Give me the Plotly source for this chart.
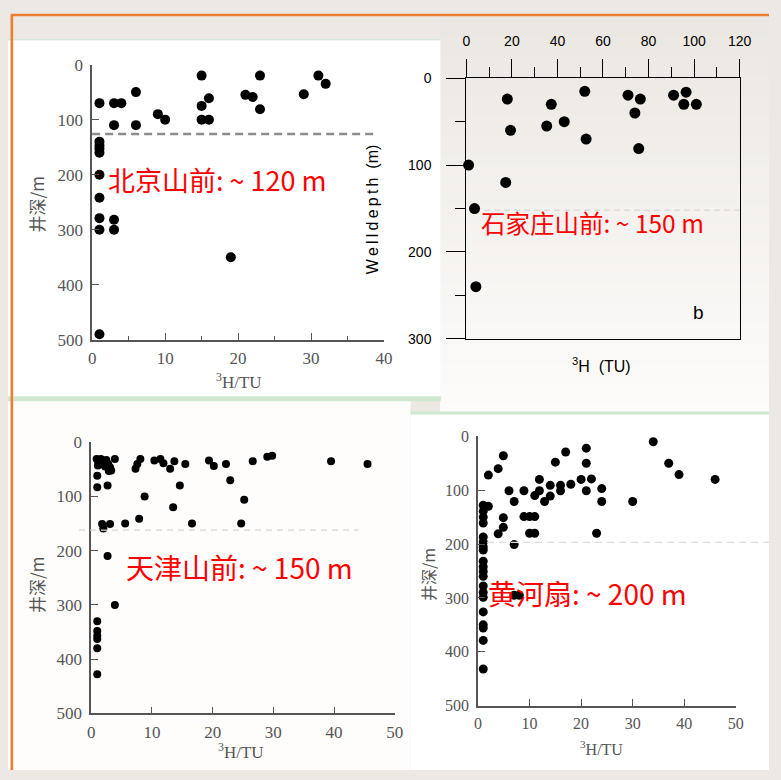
import plotly.graph_objects as go

W, H = 781, 780

# ---------------- data ----------------
bj_tu = [1, 3, 4, 6, 3, 6, 9, 10, 15, 15, 16, 15, 16, 21, 22, 23, 23, 29, 31, 32,
         1, 1, 1, 1, 1, 1, 1, 1, 3, 3, 19, 1]
bj_depth = [70, 70, 70, 50, 110, 110, 90, 100, 20, 75, 61, 100, 100, 55, 59, 20, 81, 54, 20, 35,
            140, 147, 153, 160, 200, 242, 279, 300, 282, 300, 350, 490]

sjz_tu = [1, 3.6, 4.2, 18, 19.4, 17.3, 37.3, 35.3, 43, 52, 52.6, 71, 76.4, 74, 75.7, 91, 96.5, 95.5, 101]
sjz_depth = [100, 150, 240, 24, 60, 120, 30, 55, 50, 15, 70, 19.5, 24, 40, 81, 19.5, 16, 30, 30]

tj_tu = [0.9, 1.2, 1.6, 2, 2.8, 3.1, 2.9, 1.1, 3.9, 1, 1, 2.7, 1.8, 2, 3.1, 2.7, 3.9,
         1, 1, 1, 1, 1, 1, 5.6, 7.9, 7.3, 7.6, 8.1, 8.8, 10.4, 11.4, 11.9, 13, 13.5, 13.7,
         14.6, 15.5, 16.6, 19.4, 20.2, 22.2, 22.9, 25.2, 24.7, 26.6, 29, 29.8, 39.5, 45.5,
         1.5, 2.3, 2.5, 3.3]
tj_depth = [31, 37, 31, 34, 40, 46, 53, 43, 31, 62, 83, 80, 151, 159, 151, 210, 300,
            330, 348, 357, 363, 380, 428, 150, 141, 49, 40, 31, 100, 34, 31, 39, 49, 120, 35,
            80, 40, 150, 34, 44, 40, 70, 106, 150, 35, 27, 25, 35, 40,
            40, 45, 33, 52]

hh_tu = [1] * 20 + [2, 2, 3.9, 4.9, 3.9, 4.9, 4.9, 6, 7, 7, 7, 8, 8.9, 8.9, 10, 11, 10, 11, 11,
                    11.9, 11.9, 12.9, 14, 14, 15, 16, 16, 17, 18, 20, 21, 21, 21, 22, 24, 24,
                    23, 30, 34, 37, 39, 46]
hh_depth = [128, 139, 150, 161, 187, 196, 205, 211, 232, 242, 251, 260, 278, 290, 299, 326,
            350, 356, 379, 432,
            130, 72, 60, 36, 181, 151, 169, 101, 121, 201, 295, 295, 101, 149, 149, 149, 180,
            180, 110, 80, 101, 121, 91, 111, 48, 91, 101, 29, 89, 80, 22, 50, 101, 79, 97, 121,
            180, 121, 10, 50, 71, 80]

region_labels = ["北京山前: ~ 120 m", "石家庄山前: ~ 150 m", "天津山前: ~ 150 m", "黄河扇: ~ 200 m"]
threshold_depth = [126, 152, 162, 197]

# ---------------- helpers (layout only) ----------------
def px(x):
    return x / W

def py(y):
    return 1 - y / H

def dom_x(a, b):
    return [px(a), px(b)]

def dom_y(top, bottom):
    return [py(bottom), py(top)]

fig = go.Figure()

fig.add_trace(go.Scatter(x=bj_tu, y=bj_depth, mode="markers", xaxis="x", yaxis="y",
                         marker=dict(color="black", size=10), showlegend=False, cliponaxis=False))
fig.add_trace(go.Scatter(x=sjz_tu, y=sjz_depth, mode="markers", xaxis="x2", yaxis="y2",
                         marker=dict(color="black", size=11), showlegend=False, cliponaxis=False))
fig.add_trace(go.Scatter(x=tj_tu, y=tj_depth, mode="markers", xaxis="x3", yaxis="y3",
                         marker=dict(color="black", size=8), showlegend=False, cliponaxis=False))
fig.add_trace(go.Scatter(x=hh_tu, y=hh_depth, mode="markers", xaxis="x4", yaxis="y4",
                         marker=dict(color="black", size=9), showlegend=False, cliponaxis=False))

serif = "Liberation Serif, Times New Roman, serif"
sans = "Liberation Sans, Arial, sans-serif"
gray = "#555555"

def serif_axes(xr, dtick_x, minor_x, yr, xdom, ydom, anchor_x, anchor_y, fs):
    xa = dict(domain=xdom, range=xr, anchor=anchor_y, dtick=dtick_x, tick0=0,
              ticks="inside", ticklen=7, tickwidth=1.3, tickcolor=gray,
              showline=True, linecolor=gray, linewidth=1.6, showgrid=False, zeroline=False,
              tickfont=dict(family=serif, size=fs, color=gray), ticklabelstandoff=2)
    if minor_x:
        xa["minor"] = dict(dtick=minor_x, ticks="inside", ticklen=4, tickcolor=gray, showgrid=False)
    ya = dict(domain=ydom, range=yr, anchor=anchor_x, dtick=100, tick0=0,
              ticks="inside", ticklen=7, tickwidth=1.3, tickcolor=gray,
              showline=True, linecolor=gray, linewidth=1.6, showgrid=False, zeroline=False,
              tickfont=dict(family=serif, size=fs, color=gray), ticklabelstandoff=4)
    return xa, ya

xa1, ya1 = serif_axes([0, 40], 10, 5, [500, 0], dom_x(90, 388), dom_y(57, 339), "x", "y", 17)
xa3, ya3 = serif_axes([0, 50], 10, None, [500, 0], dom_x(89, 399), dom_y(444, 722), "x3", "y3", 17)
xa4, ya4 = serif_axes([0, 50], 10, None, [500, 0], dom_x(484, 747), dom_y(438, 714), "x4", "y4", 16)

xa2 = dict(domain=dom_x(472, 751), range=[0, 120], anchor="y2", side="top", dtick=20, tick0=0,
           ticks="outside", ticklen=18, tickwidth=1, tickcolor="black",
           minor=dict(dtick=10, ticks="outside", ticklen=10, tickcolor="black", showgrid=False),
           showline=True, mirror=True, linecolor="black", linewidth=1.2,
           showgrid=False, zeroline=False,
           tickfont=dict(family=sans, size=14, color="black"), ticklabelstandoff=8)
ya2 = dict(domain=dom_y(71, 338), range=[300, 0], anchor="x2", dtick=100, tick0=0,
           ticks="outside", ticklen=19, tickwidth=1, tickcolor="black",
           minor=dict(dtick=50, ticks="outside", ticklen=10, tickcolor="black", showgrid=False),
           showline=True, mirror=True, linecolor="black", linewidth=1.2,
           showgrid=False, zeroline=False,
           tickfont=dict(family=sans, size=14, color="black"), ticklabelstandoff=12)

# ---------------- background shapes ----------------
shapes = []
def rect(x0, y0, x1, y1, color, layer="below"):
    shapes.append(dict(type="rect", xref="paper", yref="paper", x0=px(x0), x1=px(x1),
                       y0=py(y1), y1=py(y0), fillcolor=color, line=dict(width=0), layer=layer))

def hline_px(x0, x1, y, color, width, layer="below"):
    shapes.append(dict(type="line", xref="paper", yref="paper", x0=px(x0), x1=px(x1),
                       y0=py(y), y1=py(y), line=dict(color=color, width=width), layer=layer))

# panel 2 gradient background
n = 40
top_c = (235, 231, 226)
bot_c = (253, 252, 251)
y_top, y_bot = 7, 414
for i in range(n):
    t = i / (n - 1)
    c = tuple(round(top_c[k] + (bot_c[k] - top_c[k]) * t) for k in range(3))
    ya_ = y_top + (y_bot - y_top) * i / n
    yb_ = y_top + (y_bot - y_top) * (i + 1) / n + 0.6
    rect(445, ya_, 781, yb_, "rgb(%d,%d,%d)" % c)

rect(4, 32, 445.5, 398, "#ffffff")           # panel 1 image
hline_px(4, 445.5, 31.5, "#cfe9d2", 1.2)
rect(4, 397, 446, 402, "#cfe8d1")            # green band under panel 1
rect(4, 402, 415, 780, "#fefdfc")            # panel 3 image
rect(415, 415, 781, 780, "#ffffff")          # panel 4 image
hline_px(415, 781, 414, "#cfe8d1", 3)

# orange frame lines
shapes.append(dict(type="line", xref="paper", yref="paper", x0=px(7), x1=px(781),
                   y0=py(6.2), y1=py(6.2), line=dict(color="#ED7D31", width=2.6), layer="above"))
shapes.append(dict(type="line", xref="paper", yref="paper", x0=px(8), x1=px(8),
                   y0=py(6), y1=py(780), line=dict(color="#ED7D31", width=2.6), layer="above"))

# threshold dashed lines
shapes.append(dict(type="line", xref="x domain", yref="y", x0=0, x1=0.975,
                   y0=threshold_depth[0], y1=threshold_depth[0],
                   line=dict(color="#8c8c8c", width=2.4, dash="8px,5px"), layer="above"))
shapes.append(dict(type="line", xref="x2 domain", yref="y2", x0=0.065, x1=1.0,
                   y0=threshold_depth[1], y1=threshold_depth[1],
                   line=dict(color="#dcdcdc", width=1.3, dash="6px,4px"), layer="above"))
shapes.append(dict(type="line", xref="x3 domain", yref="y3", x0=-0.04, x1=0.88,
                   y0=threshold_depth[2], y1=threshold_depth[2],
                   line=dict(color="#d4d4d4", width=1.3, dash="6px,5px"), layer="above"))
shapes.append(dict(type="line", xref="x4 domain", yref="y4", x0=0.035, x1=1.13,
                   y0=threshold_depth[3], y1=threshold_depth[3],
                   line=dict(color="#dcdcdc", width=1.3, dash="7px,5px"), layer="above"))

# ---------------- annotations ----------------
ann = []
def text(x, y, s, size, color, family, angle=0, xanchor="center", yanchor="middle"):
    ann.append(dict(xref="paper", yref="paper", x=px(x), y=py(y), text=s, showarrow=False,
                    font=dict(size=size, color=color, family=family), textangle=angle,
                    xanchor=xanchor, yanchor=yanchor))

cjk = "Noto Sans CJK SC, sans-serif"
text(104, 175, region_labels[0], 27, "#ff0000", cjk, xanchor="left")
text(485, 219, region_labels[1], 24.5, "#ff0000", cjk, xanchor="left")
text(122, 572, region_labels[2], 28, "#ff0000", cjk, xanchor="left")
text(492, 599, region_labels[3], 28, "#ff0000", cjk, xanchor="left")

text(240, 381, "<sup>3</sup>H/TU", 17, gray, serif)
text(242, 761, "<sup>3</sup>H/TU", 17, gray, serif)
text(610, 757, "<sup>3</sup>H/TU", 16, gray, serif)
text(33, 200, "井深/m", 17, gray, cjk, angle=-90)
text(33, 590, "井深/m", 17, gray, cjk, angle=-90)
text(433, 580, "井深/m", 16, gray, cjk, angle=-90)

text(376, 205, "W\u2009e\u2009l\u2009l\u2009d\u2009e\u2009p\u2009t\u2009h\u00a0\u00a0(m)", 16, "black", sans, angle=-90)
text(610, 365, "<sup>3</sup>H\u00a0\u00a0(TU)", 16, "black", sans)
text(709, 311, "b", 19, "black", sans)

fig.update_layout(
    width=W, height=H, margin=dict(l=0, r=0, t=0, b=0),
    paper_bgcolor="#ece8e4", plot_bgcolor="rgba(0,0,0,0)",
    xaxis=xa1, yaxis=ya1, xaxis2=xa2, yaxis2=ya2,
    xaxis3=xa3, yaxis3=ya3, xaxis4=xa4, yaxis4=ya4,
    shapes=shapes, annotations=ann, showlegend=False,
)

fig.write_html("out.html")
